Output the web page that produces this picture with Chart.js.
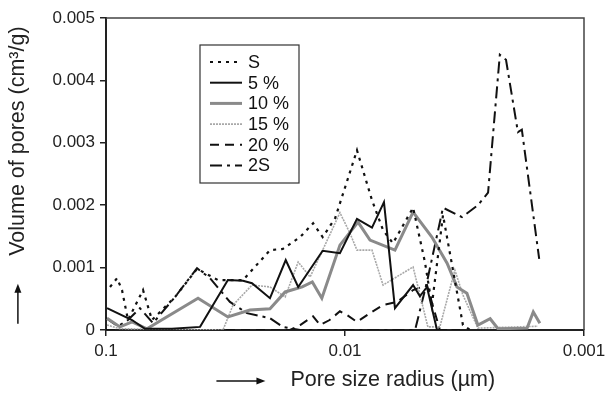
<!DOCTYPE html>
<html><head><meta charset="utf-8">
<script src="https://cdn.jsdelivr.net/npm/chart.js@4.4.1/dist/chart.umd.min.js"></script>
<style>html,body{margin:0;padding:0;background:#fff;}canvas{display:block;}</style>
</head><body>
<canvas id="c" width="606" height="397"></canvas>
<script>
// ---- data (pore radius in µm, volume in cm3/g) ----
const seriesLabels = ['S', '5 %', '10 %', '15 %', '20 %', '2S'];
const xTickValues = [0.1, 0.01, 0.001];
const xTickLabels = ['0.1', '0.01', '0.001'];
const yTickLabels = ['0', '0.001', '0.002', '0.003', '0.004', '0.005'];

const rS = [0.0962, 0.0899, 0.0857, 0.0809, 0.0700, 0.0642, 0.0514, 0.0416, 0.0340, 0.0267, 0.0206, 0.0182, 0.0154, 0.0136, 0.0124, 0.0110, 0.00891, 0.00771, 0.00693, 0.00630, 0.00519, 0.00463, 0.00433, 0.00389, 0.00321, 0.00300];
const vS = [0.00069, 0.00083, 0.00064, 0.00016, 0.00064, 0.00016, 0.00053, 0.00098, 0.00080, 0.00080, 0.00128, 0.00130, 0.00149, 0.00171, 0.00149, 0.00179, 0.00288, 0.00208, 0.00160, 0.00139, 0.00196, 0.00109, 0.00040, 0.00184, 0.00008, 0];

const r5 = [0.0990, 0.0778, 0.0687, 0.0530, 0.0404, 0.0309, 0.0267, 0.0245, 0.0206, 0.0177, 0.0157, 0.0124, 0.0105, 0.00891, 0.00771, 0.00687, 0.00618, 0.00519, 0.00486, 0.00454, 0.00412, 0.00374];
const v5 = [0.00035, 0.00016, 0.00002, 0.00002, 0.00005, 0.00080, 0.00079, 0.00075, 0.00051, 0.00112, 0.00069, 0.00127, 0.00123, 0.00178, 0.00164, 0.00205, 0.00035, 0.00072, 0.00054, 0.00069, 0, 0];

const r10 = [0.0990, 0.0874, 0.0778, 0.0674, 0.0412, 0.0309, 0.0250, 0.0206, 0.0178, 0.0151, 0.0137, 0.0125, 0.0105, 0.00882, 0.00786, 0.00618, 0.00519, 0.00433, 0.00374, 0.00340, 0.00309, 0.00278, 0.00247, 0.00229, 0.00173, 0.00163, 0.00153];
const v10 = [0.00019, 0.00005, 0.00013, 0.00002, 0.00051, 0.00021, 0.00032, 0.00034, 0.00061, 0.00069, 0.00077, 0.00051, 0.00136, 0.00173, 0.00144, 0.00128, 0.00189, 0.00149, 0.00107, 0.00069, 0.00059, 0.00008, 0.00018, 0.00002, 0.00003, 0.00029, 0.00011];

const r15 = [0.0990, 0.0874, 0.0324, 0.0294, 0.0245, 0.0206, 0.0178, 0.0157, 0.0140, 0.0124, 0.0105, 0.00953, 0.00891, 0.00771, 0.00693, 0.00519, 0.00450, 0.00401, 0.00347, 0.00321, 0.00278, 0.00156];
const v15 = [0.00008, 0.00002, 0, 0.00040, 0.00072, 0.00069, 0.00053, 0.00109, 0.00085, 0.00128, 0.00188, 0.00155, 0.00128, 0.00128, 0.00072, 0.00101, 0.00005, 0.00005, 0.00096, 0.00056, 0.00003, 0.00006];

const r20 = [0.1, 0.0170, 0.0154, 0.0136, 0.0127, 0.0116, 0.0105, 0.00981, 0.00891, 0.00771, 0.00693, 0.00606, 0.00519, 0.00454, 0.00401, 0.00330];
const v20 = [0, 0, 0.00008, 0.00022, 0.00008, 0.00016, 0.00030, 0.00024, 0.00013, 0.00029, 0.00040, 0.00045, 0.00064, 0.00072, 0, 0];

const r2S = [0.1, 0.0891, 0.0809, 0.0721, 0.0636, 0.0514, 0.0416, 0.0367, 0.0303, 0.0257, 0.0206, 0.0182, 0.0154, 0.00509, 0.00454, 0.00389, 0.00324, 0.00278, 0.00252, 0.00225, 0.00212, 0.00189, 0.00182, 0.00154];
const v2S = [0.00019, 0.00006, 0.00016, 0.00035, 0.00011, 0.00053, 0.00099, 0.00083, 0.00045, 0.00027, 0.00019, 0.00005, 0, 0, 0.00077, 0.00196, 0.00181, 0.00200, 0.00220, 0.00441, 0.00433, 0.00317, 0.00321, 0.00114];

const xTitle = 'Pore size radius (µm)';
const yTitle = 'Volume of pores (cm³/g)';

// ---- build ----
const FONT = "'Liberation Sans', Arial, sans-serif";
const TITLE_SIZE = 21.5;
const pts = (r, v) => r.map((x, i) => ({x: x, y: v[i]}));
const styles = [
  {c: '#111', w: 2.2, d: [3, 5]},
  {c: '#111', w: 2, d: []},
  {c: '#8a8a8a', w: 3, d: []},
  {c: '#a8a8a8', w: 1.6, d: [2, 1]},
  {c: '#111', w: 2, d: [9, 6]},
  {c: '#111', w: 2, d: [12, 5, 3, 5]}
];
const seriesData = [pts(rS, vS), pts(r5, v5), pts(r10, v10), pts(r15, v15), pts(r20, v20), pts(r2S, v2S)];
const datasets = seriesLabels.map((lab, i) => ({
  label: lab, data: seriesData[i], borderColor: styles[i].c, borderWidth: styles[i].w,
  borderDash: styles[i].d, pointRadius: 0, tension: 0, fill: false
}));

const padSp = n => '\u00a0'.repeat(n);

const decor = {
  id: 'decor',
  afterDraw(chart) {
    const ctx = chart.ctx, a = chart.chartArea;
    ctx.save();
    // top/right frame
    ctx.strokeStyle = '#444'; ctx.lineWidth = 1.5;
    ctx.beginPath(); ctx.moveTo(a.left, a.top); ctx.lineTo(a.right, a.top); ctx.lineTo(a.right, a.bottom); ctx.stroke();
    // arrows next to axis titles
    ctx.fillStyle = '#111'; ctx.strokeStyle = '#111'; ctx.lineWidth = 1.5;
    const ys = chart.scales.y, xs = chart.scales.x;
    ctx.font = TITLE_SIZE + 'px ' + FONT;
    const lh = TITLE_SIZE * 1.2;
    // y arrow (pointing up, below the title text)
    const yFull = ctx.measureText(ys.options.title.text).width;
    const yTxt = ctx.measureText(ys.options.title.text.trim()).width;
    const yTextStart = (a.top + a.bottom) / 2 + yFull / 2 - (yFull - yTxt);
    const yCx = ys.left + 5 + lh / 2;
    ctx.beginPath(); ctx.moveTo(yCx, yTextStart + 68); ctx.lineTo(yCx, yTextStart + 33); ctx.stroke();
    ctx.beginPath(); ctx.moveTo(yCx, yTextStart + 28); ctx.lineTo(yCx - 3.5, yTextStart + 37); ctx.lineTo(yCx + 3.5, yTextStart + 37); ctx.closePath(); ctx.fill();
    // x arrow (pointing right, before the title text)
    const xFull = ctx.measureText(xs.options.title.text).width;
    const xTxt = ctx.measureText(xs.options.title.text.trim()).width;
    const xTextStart = (a.left + a.right) / 2 - xFull / 2 + (xFull - xTxt);
    const xCy = xs.bottom - 4 - lh / 2 + 1;
    ctx.beginPath(); ctx.moveTo(xTextStart - 74, xCy); ctx.lineTo(xTextStart - 30, xCy); ctx.stroke();
    ctx.beginPath(); ctx.moveTo(xTextStart - 25, xCy); ctx.lineTo(xTextStart - 34, xCy - 3.5); ctx.lineTo(xTextStart - 34, xCy + 3.5); ctx.closePath(); ctx.fill();
    // legend
    const lx = a.left + 94, ly = a.top + 27, lw = 99, lh2 = 138;
    ctx.fillStyle = '#fff'; ctx.fillRect(lx, ly, lw, lh2);
    ctx.strokeStyle = '#333'; ctx.lineWidth = 1.2; ctx.strokeRect(lx, ly, lw, lh2);
    ctx.font = '18px ' + FONT; ctx.textBaseline = 'middle'; ctx.textAlign = 'left';
    chart.data.datasets.forEach((ds, i) => {
      const y = ly + 17 + i * 20.7;
      ctx.strokeStyle = ds.borderColor; ctx.lineWidth = ds.borderWidth; ctx.setLineDash(ds.borderDash);
      ctx.beginPath(); ctx.moveTo(lx + 10, y); ctx.lineTo(lx + 42, y); ctx.stroke();
      ctx.setLineDash([]);
      ctx.fillStyle = '#111'; ctx.fillText(ds.label, lx + 48, y + 1);
    });
    ctx.restore();
  }
};

new Chart(document.getElementById('c'), {
  type: 'line',
  data: {datasets: datasets},
  options: {
    responsive: false, animation: false, devicePixelRatio: 1,
    layout: {padding: {top: 18, right: 22, left: 0, bottom: 0}},
    plugins: {legend: {display: false}, tooltip: {enabled: false}},
    scales: {
      x: {
        type: 'logarithmic', reverse: true, min: 0.001, max: 0.1,
        afterBuildTicks(s) { s.ticks = xTickValues.map(v => ({value: v})); },
        afterFit(s) { s.height = 67; s.paddingLeft = 0; s.paddingRight = 0; },
        ticks: {autoSkip: false, maxRotation: 0, padding: 5, color: '#222', font: {family: FONT, size: 17},
          callback: (v, i) => xTickLabels[i]},
        grid: {drawOnChartArea: false, drawTicks: true, tickLength: 6, color: '#222', lineWidth: 1.5},
        border: {display: true, color: '#222', width: 2},
        title: {display: true, text: padSp(16) + xTitle, color: '#222', font: {family: FONT, size: TITLE_SIZE}, padding: {top: 0, bottom: 4}}
      },
      y: {
        min: 0, max: 0.005,
        afterFit(s) { s.width = 106; },
        ticks: {stepSize: 0.001, padding: 5, color: '#222', font: {family: FONT, size: 17},
          callback: (v, i) => yTickLabels[i]},
        grid: {drawOnChartArea: false, drawTicks: true, tickLength: 6, color: '#222', lineWidth: 1.5},
        border: {display: true, color: '#222', width: 2},
        title: {display: true, text: padSp(11) + yTitle, color: '#222', font: {family: FONT, size: TITLE_SIZE}, padding: {top: 5, bottom: 0}}
      }
    }
  },
  plugins: [decor]
});
</script>
</body></html>
